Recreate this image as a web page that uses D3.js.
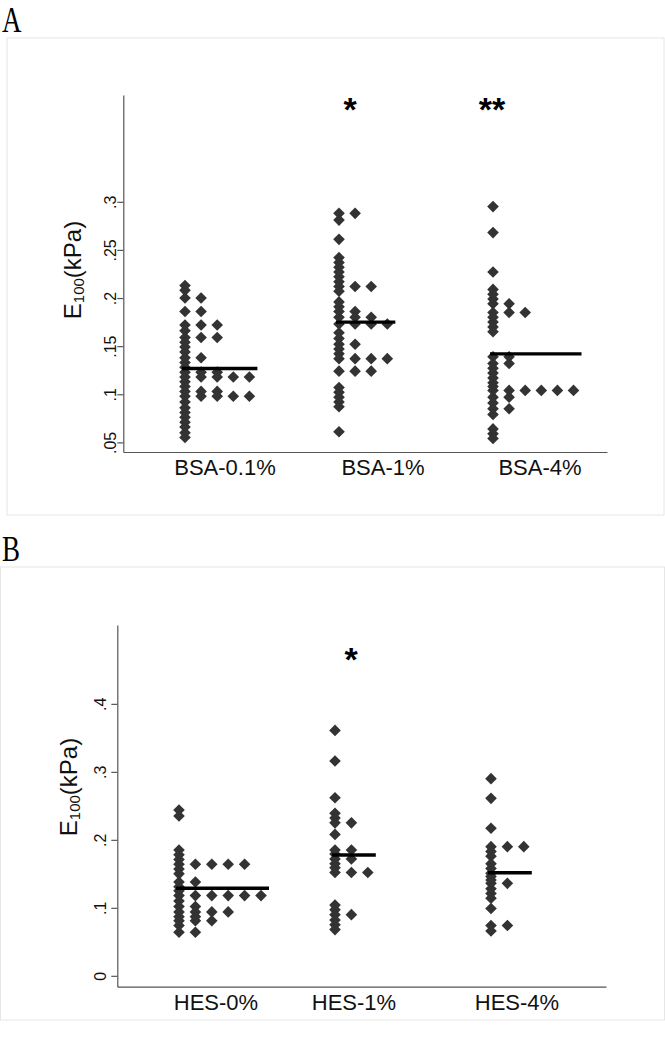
<!DOCTYPE html>
<html><head><meta charset="utf-8">
<script src="https://cdn.jsdelivr.net/npm/d3@7"></script>
<style>body{margin:0;background:#fff}svg{display:block}</style>
</head><body>
<svg id="chart" width="665" height="1050"></svg>
<script>
// ---------- DATA ----------
const bsaCategories = ["BSA-0.1%", "BSA-1%", "BSA-4%"];
const hesCategories = ["HES-0%", "HES-1%", "HES-4%"];

// Panel A values (E100, kPa); equal values are stacked side by side
const bsa01 = [0.213, 0.208, 0.200, 0.200, 0.186, 0.186, 0.172, 0.172, 0.172, 0.166,
  0.159, 0.159, 0.159, 0.154, 0.149, 0.144, 0.138, 0.138, 0.133, 0.128,
  0.123, 0.123, 0.123, 0.118, 0.118, 0.118, 0.118, 0.118, 0.113, 0.108,
  0.103, 0.103, 0.103, 0.098, 0.098, 0.098, 0.098, 0.098, 0.092, 0.086,
  0.081, 0.076, 0.071, 0.066, 0.060, 0.055];
const bsa1 = [0.288, 0.288, 0.281, 0.261, 0.242, 0.237, 0.232, 0.227, 0.222, 0.217,
  0.212, 0.212, 0.212, 0.207, 0.196, 0.191, 0.186, 0.186, 0.180, 0.180,
  0.180, 0.173, 0.173, 0.173, 0.173, 0.164, 0.158, 0.152, 0.152, 0.147,
  0.142, 0.137, 0.137, 0.137, 0.137, 0.124, 0.124, 0.124, 0.107, 0.102,
  0.097, 0.092, 0.087, 0.061];
const bsa4 = [0.295, 0.268, 0.227, 0.209, 0.204, 0.199, 0.194, 0.194, 0.185, 0.185,
  0.185, 0.180, 0.175, 0.170, 0.165, 0.139, 0.139, 0.132, 0.132, 0.127,
  0.122, 0.117, 0.112, 0.108, 0.104, 0.104, 0.104, 0.104, 0.104, 0.104,
  0.097, 0.097, 0.091, 0.085, 0.085, 0.079, 0.064, 0.059, 0.054];
const bsaMedians = [0.1267, 0.175, 0.142];
const bsaStars = ["", "*", "**"];
const bsaTicks = [0.05, 0.1, 0.15, 0.2, 0.25, 0.3];
const bsaTickLabels = [".05", ".1", ".15", ".2", ".25", ".3"];

// Panel B values
const hes0 = [0.244, 0.235, 0.185, 0.178, 0.171, 0.164, 0.164, 0.164, 0.164, 0.164,
  0.157, 0.150, 0.138, 0.138, 0.131, 0.125, 0.118, 0.118, 0.118, 0.118,
  0.118, 0.118, 0.110, 0.102, 0.102, 0.094, 0.094, 0.094, 0.094, 0.087,
  0.087, 0.081, 0.081, 0.081, 0.074, 0.064, 0.064];
const hes1 = [0.361, 0.316, 0.262, 0.239, 0.232, 0.225, 0.225, 0.208, 0.185, 0.185,
  0.179, 0.172, 0.172, 0.165, 0.159, 0.152, 0.152, 0.152, 0.104, 0.097,
  0.090, 0.090, 0.082, 0.075, 0.068];
const hes4 = [0.290, 0.261, 0.217, 0.190, 0.190, 0.190, 0.183, 0.176, 0.165, 0.158,
  0.151, 0.146, 0.141, 0.136, 0.136, 0.128, 0.121, 0.114, 0.099, 0.074,
  0.074, 0.066];
const hesMedians = [0.1287, 0.1778, 0.1517];
const hesStars = ["", "*", ""];
const hesTicks = [0, 0.1, 0.2, 0.3, 0.4];
const hesTickLabels = ["0", ".1", ".2", ".3", ".4"];

// ---------- LAYOUT ----------
const panels = [
  { letter: "A", letterX: 2, letterY: 32,
    box: [7, 38, 657, 477],
    cats: bsaCategories, series: [bsa01, bsa1, bsa4], medians: bsaMedians, stars: bsaStars,
    starValue: 0.402, starDx: [0, 11, -1],
    ticks: bsaTicks, tickLabels: bsaTickLabels,
    yDomain: [0.04, 0.411], yRange: [452, 95],
    axisX: 123.3, xAxisEnd: 607, firstX: 185, lastX: 493, colStep: 16.1,
    tickLabelX: 110, titleX: 72, titleY: 270,
    catLabelY: 467, catLabelDx: [40, 44, 47] },
  { letter: "B", letterX: 2, letterY: 561,
    box: [0.5, 567, 664, 453],
    cats: hesCategories, series: [hes0, hes1, hes4], medians: hesMedians, stars: hesStars,
    starValue: 0.475, starDx: [0, 16, 0],
    ticks: hesTicks, tickLabels: hesTickLabels,
    yDomain: [-0.016, 0.516], yRange: [986.7, 625],
    axisX: 117.3, xAxisEnd: 606, firstX: 179, lastX: 491, colStep: 16.4,
    tickLabelX: 100, titleX: 68, titleY: 787,
    catLabelY: 1002, catLabelDx: [37, 19, 26] }
];

const svg = d3.select("#chart");
const FONT = "'Liberation Sans', Arial, Helvetica, sans-serif";
const diamond = "M0,-5.8L5.8,0L0,5.8L-5.8,0Z";

panels.forEach(p => {
  const g = svg.append("g");
  // panel box
  g.append("rect").attr("x", p.box[0]).attr("y", p.box[1])
    .attr("width", p.box[2]).attr("height", p.box[3])
    .attr("fill", "none").attr("stroke", "#e6e6e6").attr("stroke-width", 1);
  // panel letter
  g.append("text").attr("transform", `translate(${p.letterX},${p.letterY}) scale(0.75,1)`)
    .attr("font-family", "'Liberation Serif', 'DejaVu Serif', serif")
    .attr("font-size", 36).attr("fill", "#000").text(p.letter);

  const y = d3.scaleLinear().domain(p.yDomain).range(p.yRange);
  const x = d3.scalePoint().domain(p.cats).range([p.firstX, p.lastX]);

  // y axis
  const yAxis = d3.axisLeft(y).tickValues(p.ticks)
    .tickFormat((d, i) => p.tickLabels[i]).tickSize(6).tickSizeOuter(0);
  const ya = g.append("g").attr("transform", `translate(${p.axisX},0)`).call(yAxis);
  ya.select(".domain").attr("stroke", "#555").attr("stroke-width", 1.2);
  ya.selectAll(".tick line").attr("stroke", "#555").attr("stroke-width", 1.2);
  ya.selectAll(".tick text").attr("font-family", FONT).attr("font-size", 16).attr("fill", "#111")
    .attr("x", null).attr("dy", null)
    .attr("text-anchor", "middle").attr("dominant-baseline", "central")
    .attr("transform", `translate(${p.tickLabelX - p.axisX},0) rotate(-90)`);

  // x axis line
  const xa = d3.axisBottom(d3.scaleLinear().domain([0, 1]).range([p.axisX, p.xAxisEnd]))
    .tickValues([]).tickSizeOuter(0);
  const xg = g.append("g").attr("transform", `translate(0,${p.yRange[0]})`).call(xa);
  xg.select(".domain").attr("stroke", "#555").attr("stroke-width", 1.2);

  // y title
  const t = g.append("text")
    .attr("transform", `translate(${p.titleX},${p.titleY}) rotate(-90)`)
    .attr("text-anchor", "middle").attr("dominant-baseline", "central")
    .attr("font-family", FONT).attr("font-size", 24).attr("fill", "#111");
  t.append("tspan").text("E");
  t.append("tspan").attr("font-size", 15).attr("dy", 6).text("100");
  t.append("tspan").attr("dy", -6).text("(kPa)");

  // category labels
  g.selectAll(".cat").data(p.cats).enter().append("text")
    .attr("x", (d, i) => x(d) + p.catLabelDx[i])
    .attr("y", p.catLabelY).attr("dominant-baseline", "central")
    .attr("text-anchor", "middle").attr("font-family", FONT).attr("font-size", 22)
    .attr("fill", "#111").text(d => d);

  // dots
  p.series.forEach((vals, gi) => {
    const counts = new Map();
    const pts = vals.map(v => {
      const k = v.toFixed(3);
      const i = counts.get(k) || 0;
      counts.set(k, i + 1);
      return { v, i };
    });
    const maxI = d3.max(pts, d => d.i);
    const cx = x(p.cats[gi]);
    g.append("g").selectAll("path").data(pts).enter().append("path")
      .attr("d", diamond).attr("fill", "#333")
      .attr("transform", d => `translate(${cx + d.i * p.colStep},${y(d.v)})`);
    // median line
    g.append("line")
      .attr("x1", cx - 3).attr("x2", cx + maxI * p.colStep + 8)
      .attr("y1", y(p.medians[gi])).attr("y2", y(p.medians[gi]))
      .attr("stroke", "#000").attr("stroke-width", 3.4);
    // significance stars
    if (p.stars[gi]) {
      const fs = 34;
      g.append("text").attr("x", cx + p.starDx[gi])
        .attr("y", y(p.starValue) + 0.52 * fs)
        .attr("text-anchor", "middle").attr("font-family", FONT)
        .attr("font-weight", "bold").attr("font-size", fs).attr("fill", "#000")
        .text(p.stars[gi]);
    }
  });
});
</script>
</body></html>
